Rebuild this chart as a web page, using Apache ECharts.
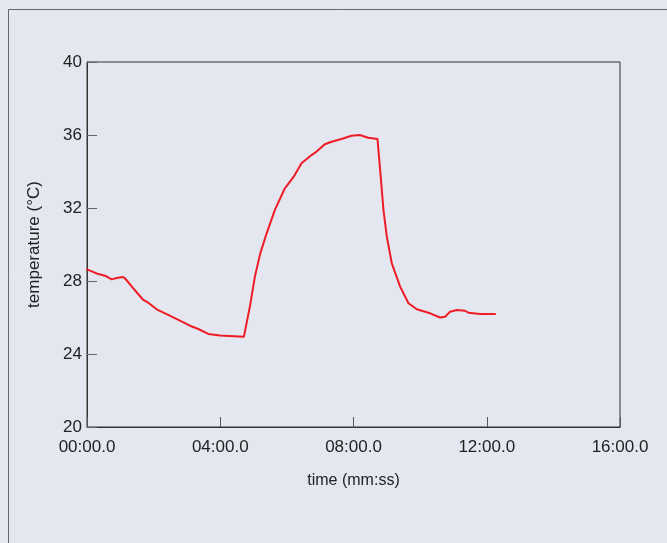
<!DOCTYPE html>
<html><head><meta charset="utf-8">
<script src="https://cdn.jsdelivr.net/npm/echarts@6/dist/echarts.min.js"></script>
<style>html,body{margin:0;padding:0;background:#e4e6f0;}#c{width:667px;height:543px;}</style>
</head><body><div id="c"></div>
<script>
// time in minutes
var times = [0, 0.34, 0.54, 0.74, 0.89, 1.07, 1.14, 1.39, 1.69, 1.84, 2.09, 2.39, 2.79, 3.09, 3.34, 3.64, 3.99, 4.71, 4.89, 5.04, 5.2, 5.39, 5.64, 5.94, 6.2, 6.44, 6.74, 6.89, 7.14, 7.34, 7.64, 7.94, 8.19, 8.44, 8.72, 8.80, 8.90, 9.0, 9.15, 9.4, 9.65, 9.9, 10.3, 10.6, 10.75, 10.9, 11.1, 11.35, 11.45, 11.8, 12.25];
var temps = [28.64, 28.38, 28.29, 28.09, 28.16, 28.22, 28.15, 27.6, 26.96, 26.81, 26.45, 26.19, 25.83, 25.55, 25.37, 25.1, 25.02, 24.95, 26.6, 28.24, 29.5, 30.6, 31.9, 33.08, 33.7, 34.45, 34.9, 35.09, 35.49, 35.63, 35.78, 35.96, 36.0, 35.85, 35.78, 34.08, 31.89, 30.43, 28.97, 27.69, 26.78, 26.45, 26.23, 26.0, 26.04, 26.32, 26.41, 26.37, 26.26, 26.19, 26.19];
var xTicks = ['00:00.0', '04:00.0', '08:00.0', '12:00.0', '16:00.0'];
var yTicks = [20, 24, 28, 32, 36, 40];
var xTitle = 'time (mm:ss)';
var yTitle = 'temperature (°C)';

var data = times.map(function (t, i) { return [t, temps[i]]; });
var font = '"Liberation Sans", Arial, sans-serif';
var chart = echarts.init(document.getElementById('c'), null, {renderer: 'canvas'});
chart.setOption({
  backgroundColor: '#e4e6f0',
  animation: false,
  graphic: [{
    type: 'rect', shape: {x: 8.5, y: 9.5, width: 700, height: 600},
    style: {fill: 'none', stroke: '#666', lineWidth: 1}, silent: true, z: -1
  }],
  grid: {left: 87, top: 62, right: 47, bottom: 116, show: true, borderColor: '#333', borderWidth: 1, backgroundColor: 'transparent'},
  xAxis: {
    type: 'value', min: 0, max: 16, interval: 4,
    name: xTitle, nameLocation: 'middle', nameGap: 46,
    nameTextStyle: {fontFamily: font, fontSize: 16, color: '#222'},
    axisLine: {show: true, lineStyle: {color: '#333', width: 1}},
    axisTick: {show: true, inside: true, length: 10, lineStyle: {color: '#555'}},
    axisLabel: {fontFamily: font, fontSize: 17, color: '#222', margin: 12,
      formatter: function (v) { return xTicks[Math.round(v / 4)]; }},
    splitLine: {show: false}
  },
  yAxis: {
    type: 'value', min: 20, max: 40, interval: 4,
    name: yTitle, nameLocation: 'middle', nameGap: 44, nameRotate: 90,
    nameTextStyle: {fontFamily: font, fontSize: 17, color: '#222'},
    axisLine: {show: true, lineStyle: {color: '#333', width: 1}},
    axisTick: {show: true, inside: true, length: 10, lineStyle: {color: '#666'}},
    axisLabel: {fontFamily: font, fontSize: 17, color: '#222', margin: 5,
      formatter: function (v) { return yTicks.indexOf(v) >= 0 ? String(v) : ''; }},
    splitLine: {show: false}
  },
  series: [{
    type: 'line', data: data, showSymbol: false, smooth: false,
    lineStyle: {color: '#ee1c25', width: 2, join: 'round', cap: 'round'}
  }]
});
</script></body></html>
